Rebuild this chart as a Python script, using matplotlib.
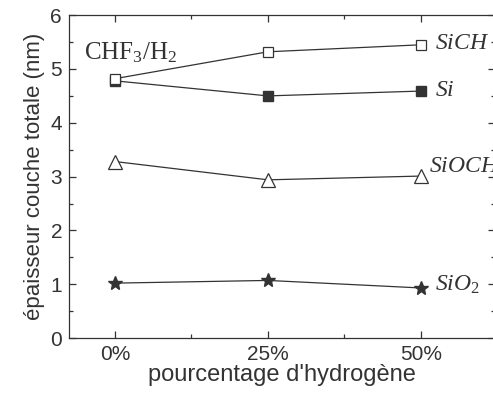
import numpy as np
import matplotlib
matplotlib.use('Agg')
import matplotlib.pyplot as plt
from matplotlib.ticker import MultipleLocator

plt.rcParams['font.family'] = 'Liberation Sans'
plt.rcParams['mathtext.fontset'] = 'custom'
plt.rcParams['mathtext.rm'] = 'Liberation Serif'
plt.rcParams['mathtext.it'] = 'Liberation Serif:italic'

# data
h2 = [0, 25, 50]
xlabels = ['0%', '25%', '50%']
sich = [4.82, 5.32, 5.45]
si = [4.78, 4.50, 4.59]
sioch = [3.28, 2.94, 3.01]
sio2 = [1.02, 1.07, 0.93]

col = '#333333'
fig = plt.figure(figsize=(4.93, 4.0), dpi=100)
# right spine sits just outside the picture, as in the original
ax = fig.add_axes([0.140, 0.155, 0.864, 0.807])

ax.plot(h2, sio2, '-', color=col, lw=0.9, marker='*', ms=10.5, mfc=col, mec=col)
ax.plot(h2, sioch, '-', color=col, lw=0.9, marker='^', ms=10, mfc='white', mec=col, mew=0.9)
ax.plot(h2, si, '-', color=col, lw=0.9, marker='s', ms=7.5, mfc=col, mec=col)
ax.plot(h2, sich, '-', color=col, lw=0.9, marker='s', ms=7.5, mfc='white', mec=col, mew=0.9)

lab_kw = dict(textcoords='offset points', fontsize=17, color=col, va='center')
ax.annotate('$SiCH$', (h2[-1], sich[-1]), xytext=(10, 1), **lab_kw)
ax.annotate('$Si$', (h2[-1], si[-1]), xytext=(10, 1), **lab_kw)
ax.annotate('$SiOCH$', (h2[-1], sioch[-1]), xytext=(6, 7), **lab_kw)
ax.annotate('$SiO_2$', (h2[-1], sio2[-1]), xytext=(10, 2), **lab_kw)

ax.text(0.035, 0.885, 'CHF$_3$/H$_2$', transform=ax.transAxes, fontsize=18,
        color=col, va='center', fontfamily='Liberation Serif')

ax.set_xlim(-7.5, 62.1)
ax.set_ylim(0, 6)
ax.set_xticks(h2)
ax.set_xticklabels(xlabels)
ax.xaxis.set_minor_locator(MultipleLocator(12.5))
ax.yaxis.set_major_locator(MultipleLocator(1))
ax.yaxis.set_minor_locator(MultipleLocator(0.5))
ax.tick_params(which='both', direction='in', top=True, right=True, colors=col,
               labelsize=15, width=0.9)
ax.tick_params(which='major', length=5, pad=5)
ax.tick_params(which='minor', length=3)
for s in ax.spines.values():
    s.set_color(col)
    s.set_linewidth(0.9)

ax.set_xlabel("pourcentage d'hydrogène", fontsize=17, color=col, labelpad=0)
ax.set_ylabel('épaisseur couche totale (nm)', fontsize=16, color=col, labelpad=4)

fig.savefig('out.png', dpi=100)
